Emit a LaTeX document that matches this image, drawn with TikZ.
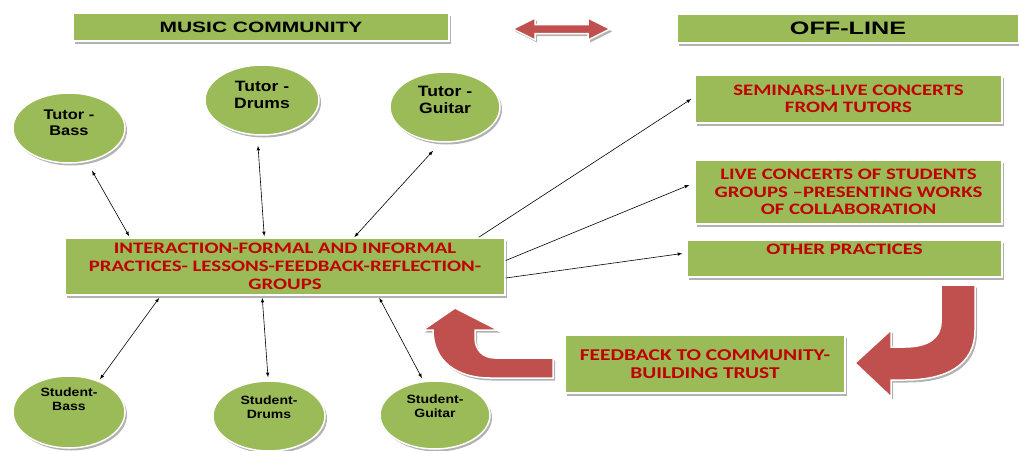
\documentclass[tikz,border=0pt]{standalone}
\usepackage{fontspec}
\setmainfont{Liberation Sans}
\newfontfamily\titlefont[FakeStretch=1.4]{Liberation Sans}
\newfontfamily\boxfont[FakeStretch=1.3]{Carlito}
\newfontfamily\circfont[FakeStretch=1.17]{Liberation Sans}
\usetikzlibrary{shapes.geometric,shadows,calc}
\definecolor{boxgreen}{RGB}{155,187,89}
\definecolor{txtred}{RGB}{192,0,0}
\definecolor{arrred}{RGB}{192,80,77}
\newcommand\dstrut[1]{\rule[-#1]{0pt}{#1}}
\begin{document}
\begin{tikzpicture}[x=1pt,y=-1pt,
  shad/.style={drop shadow={shadow xshift=2pt,shadow yshift=-2.5pt,fill=black,opacity=0.3}},
  gbox/.style={rectangle, fill=boxgreen, draw=white, line width=1.5pt, shad, inner sep=2pt, align=center,
    font=\boxfont\bfseries\fontsize{16}{17.5}\selectfont, text=txtred},
  titlebox/.style={gbox, font=\titlefont\bfseries\fontsize{15}{17}\selectfont, text=black},
  disc/.style={ellipse, fill=boxgreen, draw=white, line width=1.5pt, shad, inner sep=0pt, align=center,
    font=\circfont\bfseries\fontsize{15}{17}\selectfont, text=black},
  link/.style={<->, >=latex, line width=0.6pt},
  outarrow/.style={->, >=latex, line width=0.6pt},
  bigarrow/.style={fill=arrred, draw=white, line width=1.5pt, shad}
]
\useasboundingbox[fill=white] (0,0) rectangle (1019,450);

% titles
\node[titlebox, minimum width=376pt, minimum height=28pt] (mc) at (261,27) {MUSIC COMMUNITY};
\node[titlebox, minimum width=342pt, minimum height=29pt, font=\titlefont\bfseries\fontsize{18}{20}\selectfont] (ol) at (848,28.5) {OFF-LINE};
\filldraw[bigarrow] (513,29) -- (535,18) -- (535,24.5) -- (588,24.5) -- (588,18) -- (610,29)
  -- (588,40) -- (588,33.5) -- (535,33.5) -- (535,40) -- cycle;

% tutors
\node[disc, minimum width=112pt, minimum height=70pt, font=\circfont\bfseries\fontsize{14}{16}\selectfont] (tb) at (69,128) {Tutor -\\Bass\dstrut{11pt}};
\node[disc, minimum width=114pt, minimum height=70pt] (td) at (262,100) {Tutor -\\Drums\dstrut{11pt}};
\node[disc, minimum width=110pt, minimum height=70pt] (tg) at (445,107) {Tutor -\\Guitar\dstrut{15pt}};

% centre
\node[gbox, minimum width=440pt, minimum height=57pt, font=\boxfont\bfseries\fontsize{16}{18}\selectfont] (ce) at (285,266.5)
  {INTERACTION-FORMAL AND INFORMAL\\PRACTICES- LESSONS-FEEDBACK-REFLECTION-\\GROUPS};

% students
\node[disc, minimum width=112pt, minimum height=72pt, font=\circfont\bfseries\fontsize{12}{14}\selectfont] (sb) at (69,412) {Student-\\Bass\dstrut{25pt}};
\node[disc, minimum width=112pt, minimum height=70pt, font=\circfont\bfseries\fontsize{12}{14}\selectfont] (sd) at (269,416) {Student-\\Drums\dstrut{17pt}};
\node[disc, minimum width=110pt, minimum height=68pt, font=\circfont\bfseries\fontsize{12}{14}\selectfont] (sg) at (435,415) {Student-\\Guitar\dstrut{17pt}};

% off-line boxes
\node[gbox, minimum width=307pt, minimum height=48pt] (sem) at (848.5,99) {SEMINARS-LIVE CONCERTS\\FROM TUTORS};
\node[gbox, minimum width=307pt, minimum height=64pt] (live) at (848.5,192) {LIVE CONCERTS OF STUDENTS\\GROUPS –PRESENTING WORKS\\OF COLLABORATION};
\node[gbox, minimum width=315pt, minimum height=37pt, text height=11pt, text depth=20pt] (oth) at (844.5,258.5) {OTHER PRACTICES};
\node[gbox, minimum width=280pt, minimum height=58pt, font=\boxfont\bfseries\fontsize{16.5}{18}\selectfont] (fb) at (705,364) {FEEDBACK TO COMMUNITY-\\BUILDING TRUST};

% connectors
\draw[link] ([shift={(23,7)}]tb.south) -- ([shift={(65,-1)}]ce.north west);
\draw[link] ([shift={(-4,10)}]td.south) -- ([shift={(200,-1)}]ce.north west);
\draw[link] ([shift={(-12,8)}]tg.south) -- ([shift={(290,0)}]ce.north west);
\draw[link] ([shift={(31,4)}]sb.north) -- ([shift={(95,2)}]ce.south west);
\draw[link] ([shift={(-1,-3)}]sd.north) -- ([shift={(198,2)}]ce.south west);
\draw[link] ([shift={(-13,-2)}]sg.north) -- ([shift={(315,2)}]ce.south west);
\draw[outarrow] ([shift={(-27,0)}]ce.north east) -- ([shift={(-3,0)}]sem.west);
\draw[outarrow] ([shift={(0,-6)}]ce.east) -- ([shift={(-5,-7)}]live.west);
\draw[outarrow] ([shift={(0,11.5)}]ce.east) -- ([shift={(-4,-5)}]oth.west);

% curved block arrows
\filldraw[bigarrow] (553,358) -- (495,358) .. controls (483,358) and (475,350) .. (475,338)
  -- (475,330) -- (498,330) -- (455,308) -- (423,330) -- (433,330)
  .. controls (433,362) and (458,378) .. (490,378) -- (553,378) -- cycle;
\filldraw[bigarrow] (941,285) -- (975,285) -- (975,330) .. controls (975,366) and (945,380) .. (905,380)
  -- (891,380) -- (891,397) -- (855,363) -- (891,330) -- (891,347) -- (905,347)
  .. controls (928,347) and (941,338) .. (941,322) -- cycle;
\end{tikzpicture}
\end{document}
